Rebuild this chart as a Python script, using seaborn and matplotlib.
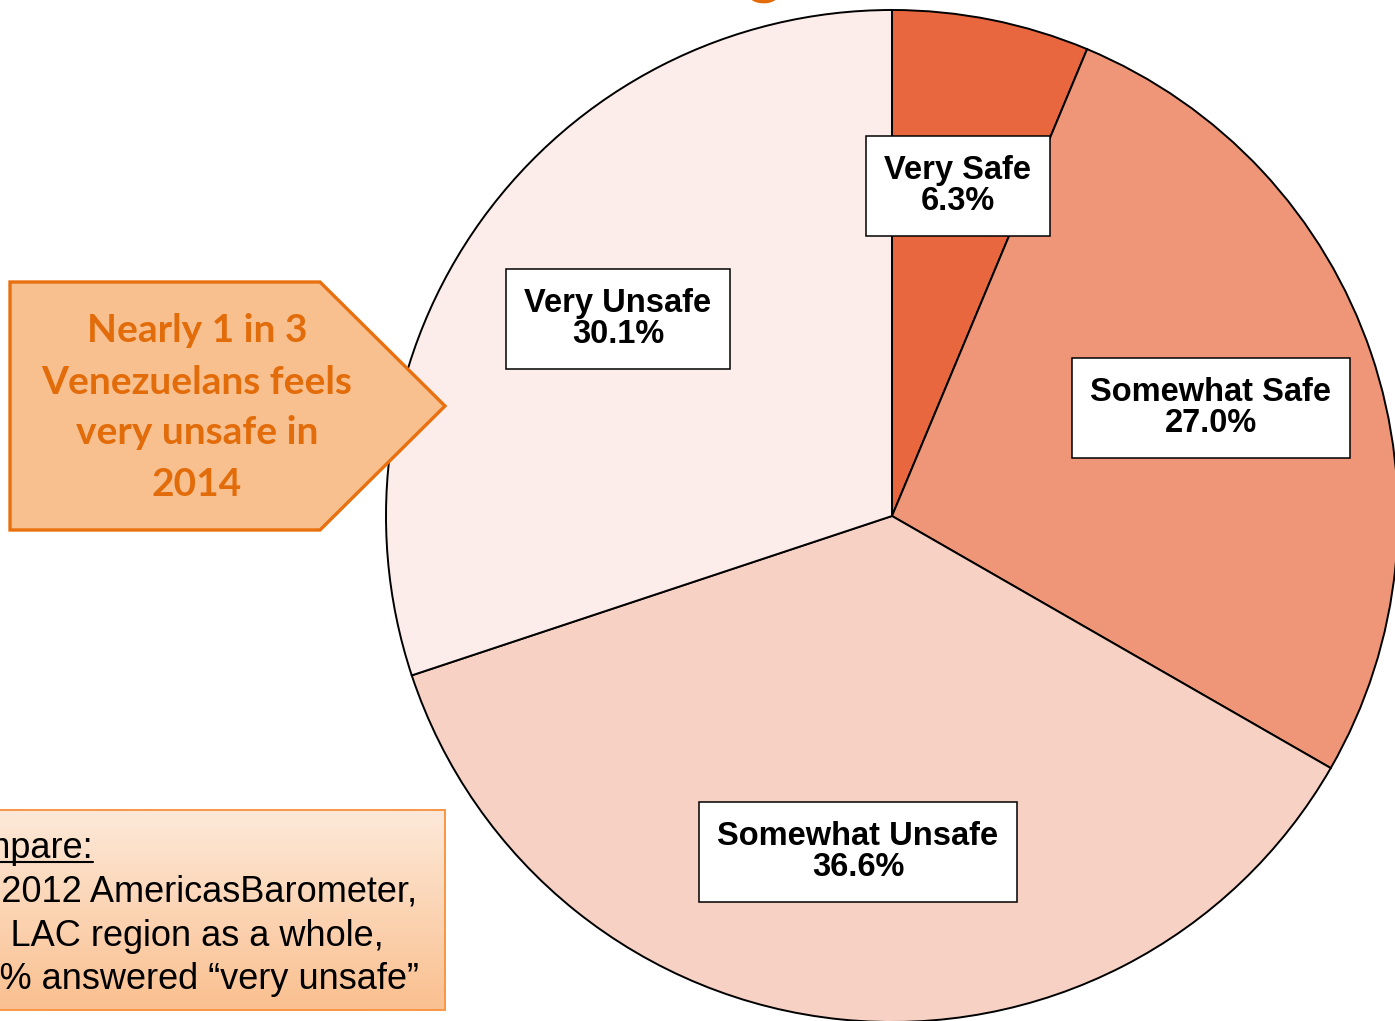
import numpy as np
import matplotlib
matplotlib.use("Agg")
import matplotlib.pyplot as plt
import seaborn as sns
from matplotlib.patches import Polygon, Rectangle

# survey answers, clockwise from the top
categories = ["Very Safe", "Somewhat Safe", "Somewhat Unsafe", "Very Unsafe"]
shares = [6.3, 27.0, 36.6, 30.1]
colors = ["#E8673F", "#EE9677", "#F6D1C4", "#FCEDEA"]

callout_lines = ["Nearly 1 in 3", "Venezuelans feels", "very unsafe in", "2014"]
compare_lines = ["Compare:", "In the 2012 AmericasBarometer,",
                 "for the LAC region as a whole,", "11% answered \u201cvery unsafe\u201d"]

W, H = 1395, 1021
sns.set_style("white")
plt.rcParams["font.family"] = ["Liberation Sans", "DejaVu Sans"]

fig = plt.figure(figsize=(W / 100, H / 100), dpi=100)
ax = fig.add_axes([0, 0, 1, 1])


def Y(y):
    # picture rows -> data y
    return H - y


cx, cy, r = 892, Y(516), 506
wedges, _ = ax.pie(shares, colors=colors, startangle=90, counterclock=False,
                   center=(cx, cy), radius=r,
                   wedgeprops=dict(edgecolor="black", linewidth=1.4))

# labels in white boxes
label_pos = [(958, 186), (1211, 408), (858, 852), (618, 319)]
for name, val, (x, y) in zip(categories, shares, label_pos):
    ax.text(x, Y(y), f"{name}\n{val:.1f}%", ha="center", va="center",
            fontsize=23.5, fontweight="bold", linespacing=1.02, color="black",
            bbox=dict(boxstyle="square,pad=0.56", fc="white", ec="black", lw=1.1))

# orange arrow callout
pts = [(10, 282), (320, 282), (445, 406), (320, 530), (10, 530)]
ax.add_patch(Polygon([(x, Y(y)) for x, y in pts], closed=True, fc="#F8BF8F",
                     ec="#E8700F", lw=2.4, joinstyle="miter", zorder=3))
for i, line in enumerate(callout_lines):
    ax.text(197, Y(331 + 51 * i), line, ha="center", va="center", fontsize=28,
            fontweight="bold", family=["Lato", "DejaVu Sans"], color="#E36C0A", zorder=4)

# comparison box with vertical gradient
grad = np.linspace(0, 1, 200)[:, None]
top = np.array([253, 233, 217]) / 255
bot = np.array([250, 192, 144]) / 255
img = top + (bot - top) * grad[..., None]
ax.imshow(img, extent=(-20, 445, Y(1010), Y(810)), origin="upper",
          aspect="auto", zorder=2)
ax.add_patch(Rectangle((-20, Y(1010)), 465, 200, fc="none", ec="#F79646",
                       lw=1.4, zorder=3))
right_ends = [93, 417, 384, 419]
baselines = [858, 901, 946, 989]
for line, xr, yb in zip(compare_lines, right_ends, baselines):
    ax.text(xr, Y(yb), line, ha="right", va="baseline", fontsize=26,
            color="black", zorder=4)
ax.plot([-20, 93], [Y(862), Y(862)], color="black", lw=1.5, zorder=4)

# bit of the slide title peeking in at the top
ax.text(764, Y(-10), "g", ha="center", va="baseline", fontsize=48,
        fontweight="bold", family=["Lato", "DejaVu Sans"], color="#E36C0A")

ax.set_xlim(0, W)
ax.set_ylim(0, H)
ax.set_aspect("equal")
ax.axis("off")
fig.savefig("out.png", dpi=100)
